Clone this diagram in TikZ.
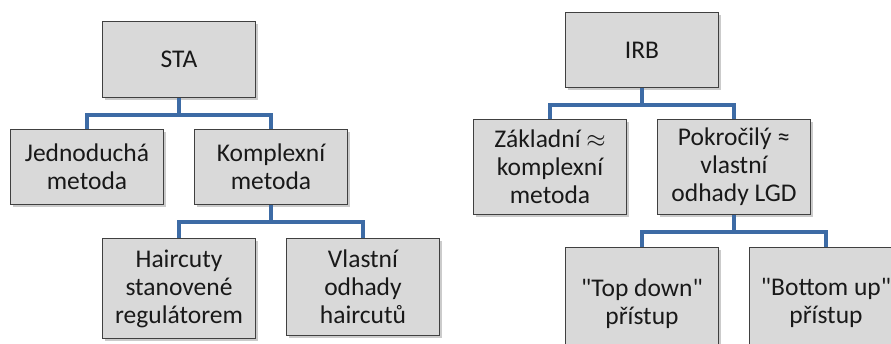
\documentclass[tikz,border=0pt]{standalone}
\usepackage{fontspec}
\setmainfont{Carlito}[Ligatures=TeXOff]
\usetikzlibrary{shadows,calc}
\definecolor{boxfill}{HTML}{D9D9D9}
\definecolor{boxline}{HTML}{404040}
\definecolor{conn}{HTML}{3D6BA5}
\tikzset{
  box/.style={draw=boxline, line width=1pt, fill=boxfill, anchor=north west,
    align=center, inner sep=0pt, text=black!90,
    font=\fontsize{25.5pt}{28pt}\selectfont,
    drop shadow={shadow xshift=2pt, shadow yshift=-2.5pt, fill=black!45, opacity=0.45}},
  conn/.style={draw=conn, line width=4pt}
}
\begin{document}
\begin{tikzpicture}[x=1pt,y=-1pt]
\useasboundingbox (0,0) rectangle (891,344);
% left tree
\node[box, minimum width=153pt, minimum height=76pt] (sta) at (102,21) {STA};
\node[box, minimum width=153pt, minimum height=75pt] (jed) at (10,129) {Jednoduchá\\metoda};
\node[box, minimum width=153pt, minimum height=75pt] (kom) at (194,129) {Komplexní\\metoda};
\node[box, minimum width=153pt, minimum height=100pt] (hai) at (102,238) {Haircuty\\stanovené\\regulátorem};
\node[box, minimum width=153pt, minimum height=97pt] (vla) at (286,238) {Vlastní\\odhady\\haircutů};
% right tree
\node[box, minimum width=153pt, minimum height=75pt] (irb) at (565,12) {IRB};
\node[box, minimum width=153pt, minimum height=95pt] (zak) at (473,119) {Základní \(\approx\)\\komplexní\\metoda};
\node[box, minimum width=153pt, minimum height=95pt] (pok) at (657,119) {Pokročilý ≈\\vlastní\\odhady LGD};
\node[box, minimum width=153pt, minimum height=112pt] (top) at (565,247) {"Top down"\\přístup};
\node[box, minimum width=153pt, minimum height=110pt] (bot) at (749,247) {"Bottom up"\\přístup};
% connectors
\coordinate (b1) at ($(sta.south)+(0,17)$);
\draw[conn] (sta.south) -- (b1) -| (jed.north);
\draw[conn] (b1) -| (kom.north);
\coordinate (b2) at ($(kom.south)+(0,17)$);
\draw[conn] (kom.south) -- (b2) -| (hai.north);
\draw[conn] (b2) -| (vla.north);
\coordinate (b3) at ($(irb.south)+(0,17)$);
\draw[conn] (irb.south) -- (b3) -| (zak.north);
\draw[conn] (b3) -| (pok.north);
\coordinate (b4) at ($(pok.south)+(0,17)$);
\draw[conn] (pok.south) -- (b4) -| (top.north);
\draw[conn] (b4) -| (bot.north);
\end{tikzpicture}
\end{document}
